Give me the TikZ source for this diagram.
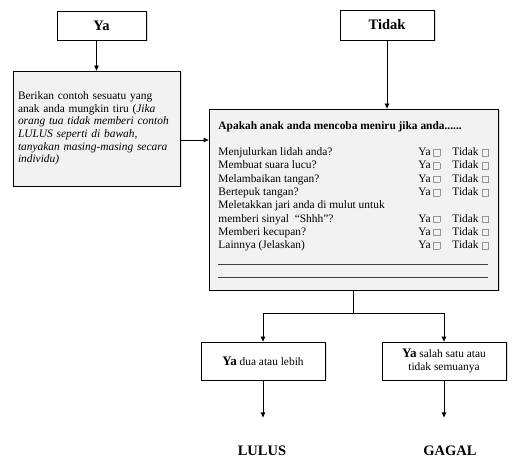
\documentclass[tikz,border=0pt]{standalone}
\usepackage{fontspec}
\setmainfont{Liberation Serif}
\usepackage{tikz}
\usetikzlibrary{shapes,shadows,arrows.meta}
\definecolor{box_grey}{RGB}{242,242,242}
\definecolor{tick_grey}{RGB}{150,150,150}
\tikzstyle{plain}=[rectangle,draw=black,fill=white,line width=0.8pt,inner sep=3pt,
  drop shadow={shadow xshift=1.5pt,shadow yshift=-1.5pt,opacity=0.25}]
\tikzstyle{greybox}=[plain,fill=box_grey]
\tikzstyle{arr}=[line width=0.8pt,-{Triangle[length=5pt,width=4.5pt]}]
\tikzstyle{head}=[font=\fontsize{14.5}{16}\selectfont\bfseries]
\newcommand{\cekbox}{{\color{tick_grey}\setlength{\fboxsep}{0pt}\setlength{\fboxrule}{0.5pt}%
  \fbox{\rule{0pt}{6pt}\rule{6pt}{0pt}}}}
\newcommand{\isian}{\multicolumn{3}{@{}l@{}}{\color{darkgray}\rule[-2pt]{270pt}{0.5pt}}}

\begin{document}
\begin{tikzpicture}[x=1pt,y=-1pt]
    \useasboundingbox (0,0) rectangle (517,470);
    \node [style=plain, head, minimum width=89pt, minimum height=29pt] (ya) at (101.5,25.5) {Ya};
    \node [style=plain, head, minimum width=94pt, minimum height=30pt] (tidak) at (387,25) {Tidak};
    \node [style=greybox, minimum width=167pt, minimum height=115pt, text width=157pt,
      inner xsep=5pt, align=left, font=\fontsize{11.4}{12.6}\selectfont] (berikan) at (96.5,128.5)
      {Berikan contoh sesuatu yang\\ anak anda mungkin tiru (\textit{Jika}\\
       \textit{orang tua tidak memberi contoh}\\ \textit{LULUS seperti di bawah,}\\
       \textit{tanyakan masing-masing secara}\\ \textit{individu)}};
    \node [style=greybox, minimum width=289pt, minimum height=181pt, inner sep=0pt,
      font=\fontsize{11.4}{13.3}\selectfont] (question) at (353.5,199.5) {%
      \begin{tabular}{@{}p{200pt}@{}p{34pt}@{}l@{}}
        \multicolumn{3}{@{}l@{}}{\textbf{Apakah anak anda mencoba meniru jika anda......}}\\
        & & \\
        Menjulurkan lidah anda? & Ya \cekbox & Tidak \cekbox\\
        Membuat suara lucu? & Ya \cekbox & Tidak \cekbox\\
        Melambaikan tangan? & Ya \cekbox & Tidak \cekbox\\
        Bertepuk tangan? & Ya \cekbox & Tidak \cekbox\\
        Meletakkan jari anda di mulut untuk & & \\
        memberi sinyal ~“Shhh”? & Ya \cekbox & Tidak \cekbox\\
        Memberi kecupan? & Ya \cekbox & Tidak \cekbox\\
        Lainnya (Jelaskan) & Ya \cekbox & Tidak \cekbox\\
        \isian\\
        \isian
      \end{tabular}};
    \node [style=plain, minimum width=124pt, minimum height=38pt,
      font=\fontsize{11.4}{13}\selectfont] (dua) at (263,361)
      {{\fontsize{13}{13}\selectfont\bfseries Ya} dua atau lebih};
    \node [style=plain, minimum width=124pt, minimum height=38pt, align=center,
      font=\fontsize{11.4}{13}\selectfont] (salah) at (444,361)
      {{\fontsize{13}{13}\selectfont\bfseries Ya} salah satu atau\\ tidak semuanya};
    \node [style=head] (lulus) at (262,451) {LULUS};
    \node [style=head] (gagal) at (450,451) {GAGAL};
    \coordinate (feed) at ([yshift=-11.5pt]berikan.east);
    \coordinate (split) at ([yshift=-23pt]question.south);
    \coordinate (duaend) at ([yshift=-37pt]dua.south);
    \coordinate (salahend) at ([yshift=-37pt]salah.south);
    \draw [style=arr] (ya.south -| berikan.north) to (berikan.north);
    \draw [style=arr] (tidak.south) to (tidak.south |- question.north);
    \draw [style=arr] (feed) to (feed -| question.west);
    \draw [line width=0.8pt] (question.south) to (split);
    \draw [style=arr] (split) -| (dua.north);
    \draw [style=arr] (split) -| (salah.north);
    \draw [style=arr] (dua.south) to (duaend);
    \draw [style=arr] (salah.south) to (salahend);
  \end{tikzpicture}
\end{document}
